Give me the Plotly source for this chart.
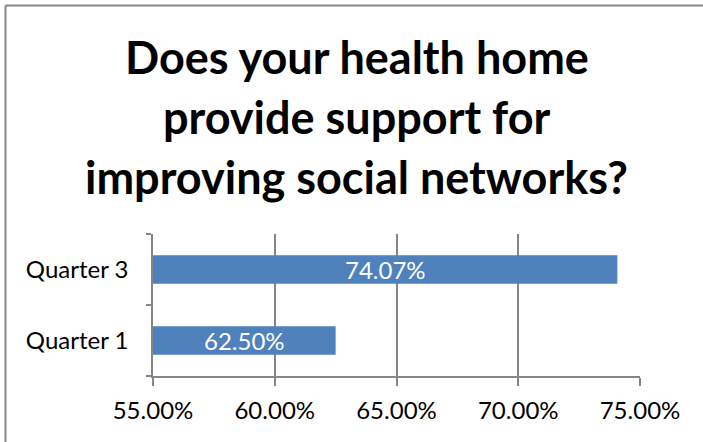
import plotly.graph_objects as go

# Survey responses by quarter (percent answering yes)
quarters = ["Quarter 1", "Quarter 3"]
percent_yes = [62.50, 74.07]
tick_values = [55, 60, 65, 70, 75]
title_lines = ["Does your health home", "provide support for", "improving social networks?"]

BAR_BLUE = "#4F81BD"
GRID_GRAY = "#868686"
FONT = "Lato, Calibri, Carlito, sans-serif"
AXIS_MIN, AXIS_MAX = 55, 75

W, H = 703, 442
L, R, T, B = 153, 63, 234, 66
plot_w = W - L - R
plot_h = H - T - B


def px_to_paper_x(px):
    return (px - L) / plot_w


def px_to_paper_y(py):
    return (H - B - py) / plot_h


fig = go.Figure(
    go.Bar(
        x=percent_yes,
        y=quarters,
        orientation="h",
        marker=dict(color=BAR_BLUE, line=dict(width=0)),
        hoverinfo="x+y",
    )
)

# Value labels centred on the visible part of each bar
for q, v in zip(quarters, percent_yes):
    fig.add_annotation(
        x=(AXIS_MIN + v) / 2,
        y=q,
        xref="x",
        yref="y",
        text=f"{v:.2f}%",
        showarrow=False,
        xanchor="center",
        yanchor="middle",
        font=dict(color="white", size=24, family=FONT),
    )

# Three-line heading, placed line by line
for i, line in enumerate(title_lines):
    fig.add_annotation(
        text=f"<b>{line}</b>",
        x=px_to_paper_x(W / 2 + 5),
        xref="paper",
        y=px_to_paper_y(57 + i * 60),
        yref="paper",
        showarrow=False,
        xanchor="center",
        yanchor="middle",
        font=dict(size=45, color="black", family=FONT),
    )

# Outer chart frame (top and left edges)
fig.add_shape(type="line", xref="paper", yref="paper",
              x0=px_to_paper_x(5.5), x1=px_to_paper_x(W + 5),
              y0=px_to_paper_y(5.5), y1=px_to_paper_y(5.5),
              line=dict(color=GRID_GRAY, width=2))
fig.add_shape(type="line", xref="paper", yref="paper",
              x0=px_to_paper_x(5.5), x1=px_to_paper_x(5.5),
              y0=px_to_paper_y(5.5), y1=px_to_paper_y(H + 5),
              line=dict(color=GRID_GRAY, width=2))

fig.update_layout(
    width=W,
    height=H,
    margin=dict(l=L, r=R, t=T, b=B, pad=0),
    paper_bgcolor="white",
    plot_bgcolor="white",
    showlegend=False,
    bargap=0.6,
    font=dict(family=FONT, color="black", size=24),
)

fig.update_xaxes(
    range=[AXIS_MIN, AXIS_MAX],
    tickvals=tick_values,
    ticktext=[f"{v:.2f}%" for v in tick_values],
    showgrid=True,
    gridcolor=GRID_GRAY,
    gridwidth=1.5,
    showline=True,
    linecolor=GRID_GRAY,
    linewidth=1.5,
    ticks="outside",
    ticklen=8,
    tickwidth=1.5,
    tickcolor=GRID_GRAY,
    tickfont=dict(size=24, family=FONT, color="black"),
    ticklabelstandoff=4,
    zeroline=False,
)

fig.update_yaxes(
    range=[-0.5, 1.5],
    showline=True,
    linecolor=GRID_GRAY,
    linewidth=1.5,
    ticks="outside",
    tickson="boundaries",
    ticklen=5,
    tickwidth=1.5,
    tickcolor=GRID_GRAY,
    showgrid=False,
    tickfont=dict(size=24, family=FONT, color="black"),
    ticklabelstandoff=18,
)

fig.write_html("out.html")
